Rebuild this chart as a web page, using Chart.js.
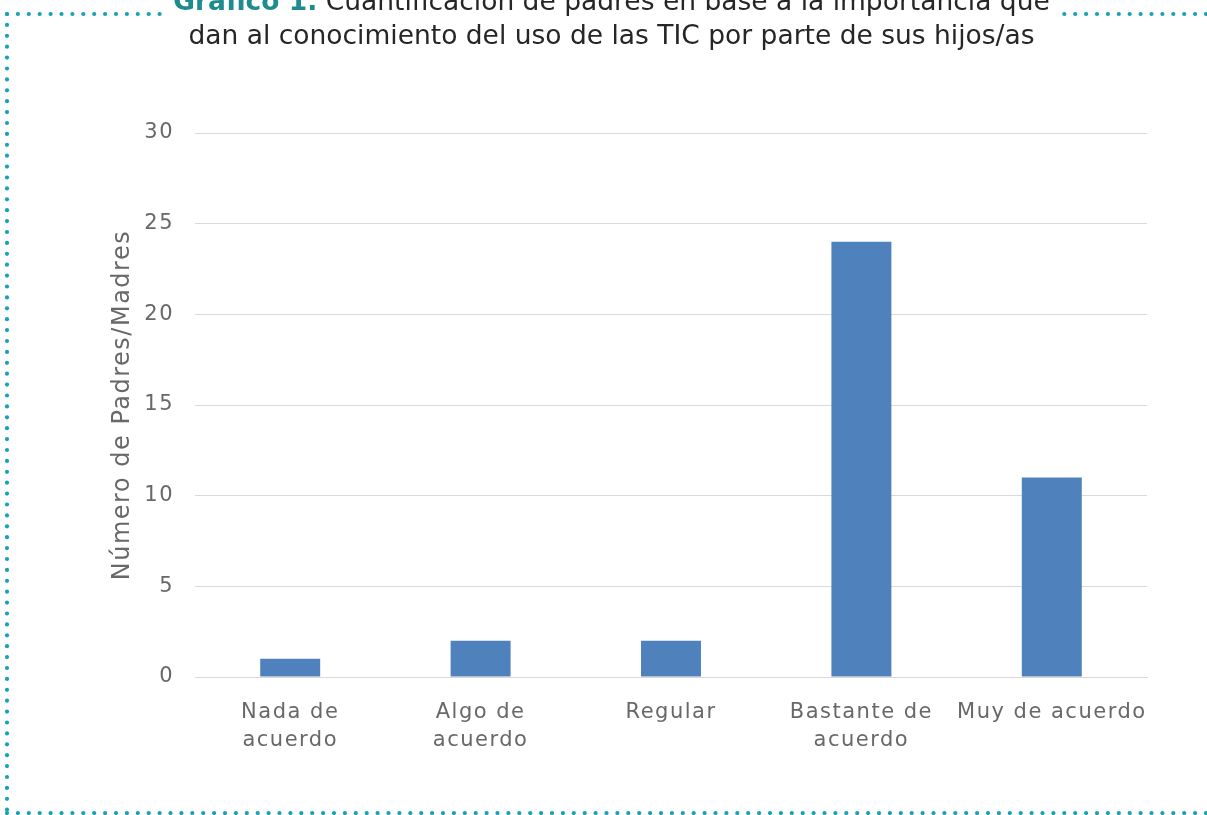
<!DOCTYPE html>
<html>
<head>
<meta charset="utf-8">
<script src="https://cdn.jsdelivr.net/npm/chart.js@4.4.0/dist/chart.umd.min.js"></script>
<style>
  html, body { margin: 0; padding: 0; background: #fff; }
  #wrap { position: relative; width: 1207px; height: 815px; overflow: hidden; }
  #titulo {
    position: absolute; left: 8px; width: 1207px; top: -16px;
    text-align: center; font-family: "DejaVu Sans", sans-serif; font-size: 26.5px;
    line-height: 34px; color: #262626;
  }
  #titulo b { color: #1e8c8e; }
</style>
</head>
<body>
<div id="wrap">
  <canvas id="myChart" width="1207" height="815"></canvas>
  <div id="titulo"><b>Gráfico 1.</b> Cuantificación de padres en base a la importancia que<br>dan al conocimiento del uso de las TIC por parte de sus hijos/as</div>
</div>
<script>
// datos
const categorias = [["Nada de", "acuerdo"], ["Algo de", "acuerdo"], "Regular", ["Bastante de", "acuerdo"], "Muy de acuerdo"];
const numPadres = [1, 2, 2, 24, 11];
const ticksY = [0, 5, 10, 15, 20, 25, 30];

const gris = "#686868";

// letra mas ancha, como la del original
const espaciado = {
  id: "espaciado",
  beforeUpdate(chart) { chart.ctx.letterSpacing = "1.5px"; },
  beforeDraw(chart) { chart.ctx.letterSpacing = "1.5px"; }
};

// borde punteado alrededor
const bordePuntos = {
  id: "bordePuntos",
  afterDraw(chart) {
    const ctx = chart.ctx;
    ctx.save();
    ctx.fillStyle = "#17a2b5";
    const paso = 10.9, r = 2.1;
    const x0 = 7, y0 = 14, y1 = 813, x1 = 1212;
    for (let x = x0; x <= x1; x += paso) {
      if (x < 160 || x > 1064) {
        ctx.beginPath(); ctx.arc(x, y0, r, 0, Math.PI * 2); ctx.fill();
      }
      ctx.beginPath(); ctx.arc(x, y1, r, 0, Math.PI * 2); ctx.fill();
    }
    for (let y = y0; y <= y1; y += paso) {
      ctx.beginPath(); ctx.arc(x0, y, r, 0, Math.PI * 2); ctx.fill();
    }
    ctx.restore();
  }
};

const ctx = document.getElementById("myChart").getContext("2d");
new Chart(ctx, {
  type: "bar",
  data: {
    labels: categorias,
    datasets: [{
      data: numPadres,
      backgroundColor: "#4f81bd",
      categoryPercentage: 1,
      barPercentage: 0.315
    }]
  },
  options: {
    responsive: false,
    animation: false,
    layout: { padding: { top: 133, right: 60, left: 104, bottom: 0 } },
    plugins: { legend: { display: false }, tooltip: { enabled: false } },
    scales: {
      x: {
        grid: { display: false },
        border: { color: "#d9d9d9", width: 1 },
        ticks: { color: gris, font: { family: "DejaVu Sans", size: 21, lineHeight: 1.35 }, padding: 13, maxRotation: 0, autoSkip: false },
        afterFit: s => { s.height = 138; }
      },
      y: {
        min: 0, max: 30,
        afterBuildTicks: s => { s.ticks = ticksY.map(v => ({ value: v })); },
        grid: { color: "#d9d9d9", drawTicks: false },
        border: { display: false },
        ticks: { color: gris, font: { family: "DejaVu Sans", size: 21 }, padding: 21 },
        title: { display: true, text: "Número de Padres/Madres", color: gris, font: { family: "DejaVu Sans", size: 24 }, padding: { top: 4, bottom: 0 } },
        afterFit: s => { s.width = 91; }
      }
    }
  },
  plugins: [espaciado, bordePuntos]
});
</script>
</body>
</html>
